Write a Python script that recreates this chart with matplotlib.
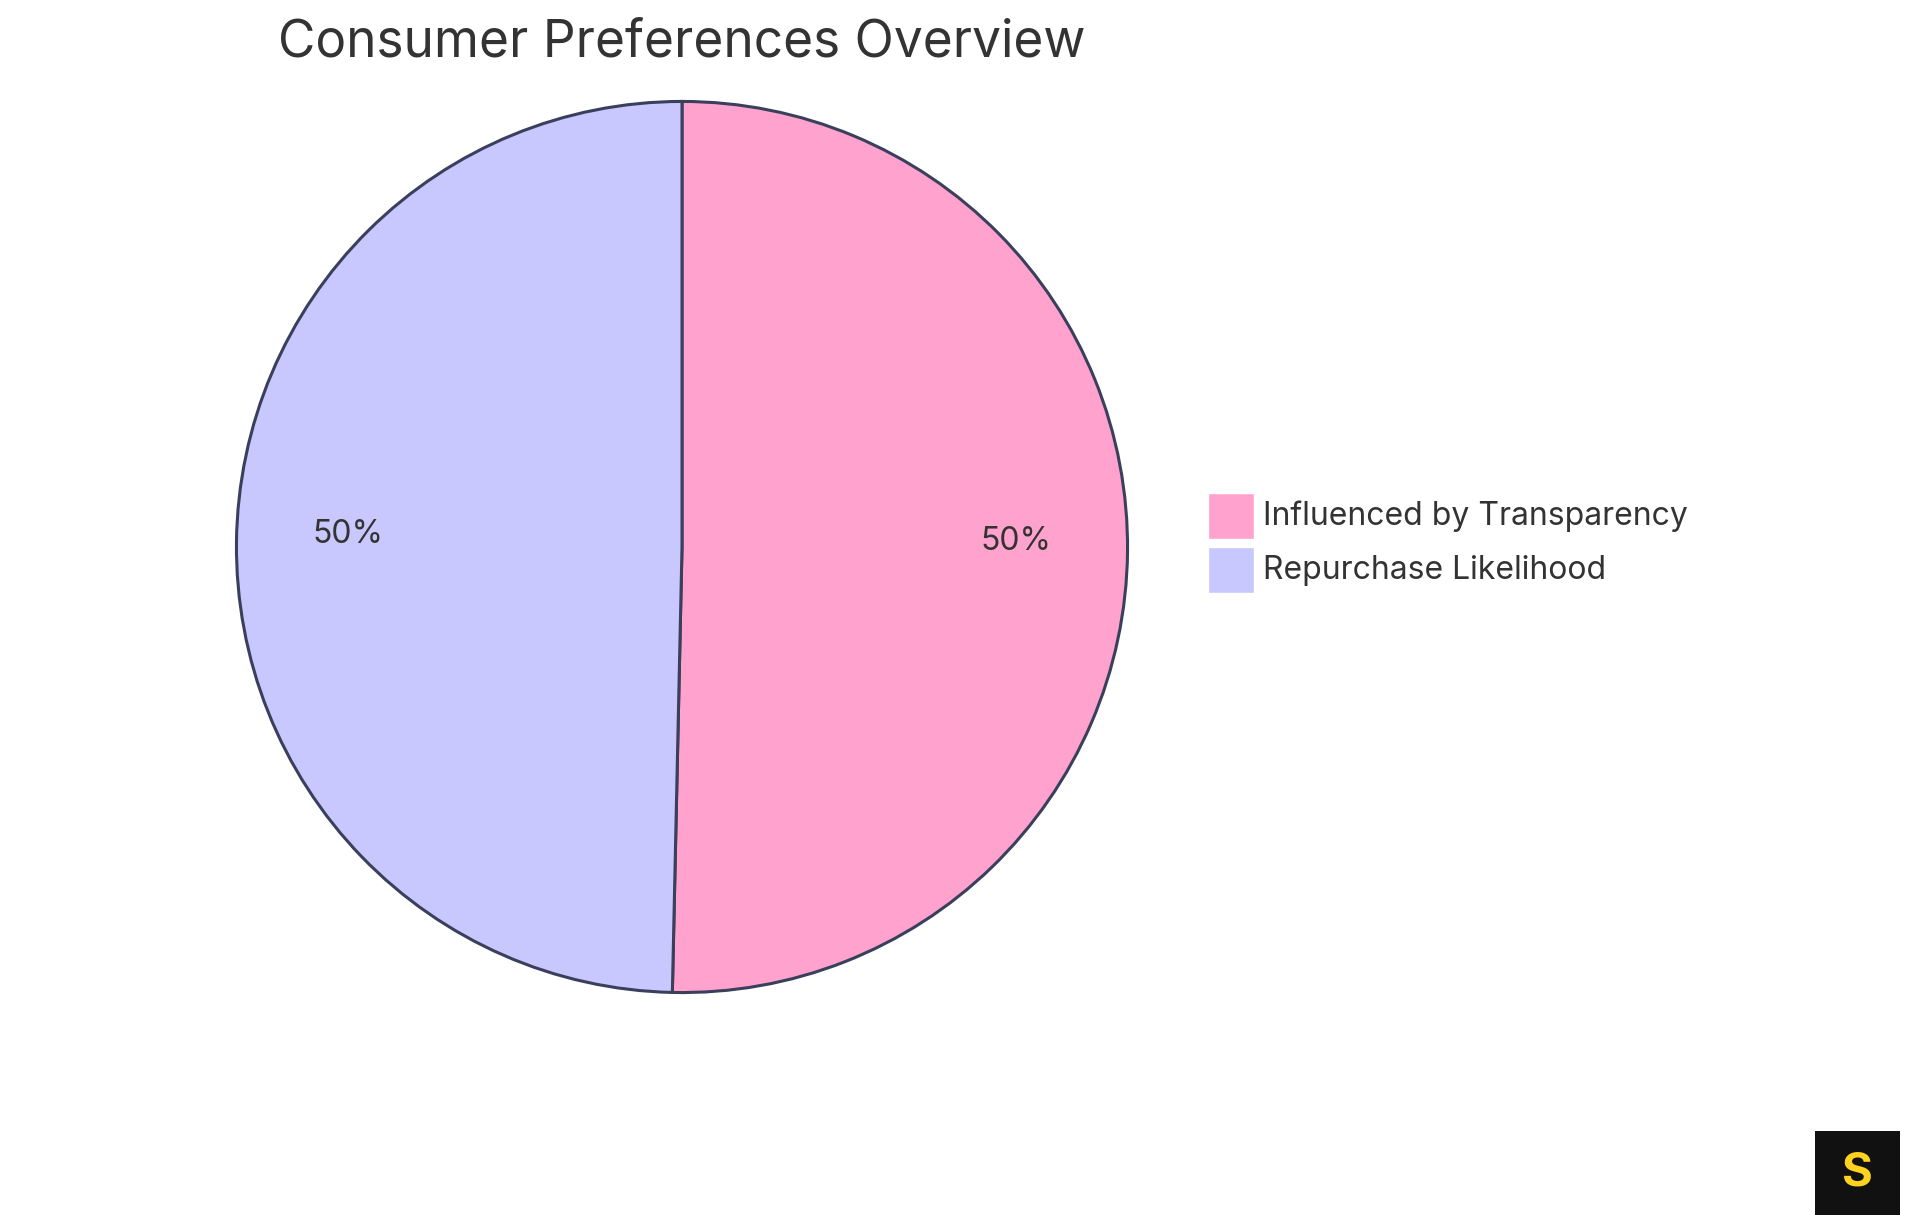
import matplotlib
matplotlib.use("Agg")
import matplotlib.pyplot as plt
from matplotlib.patches import Rectangle
import numpy as np

categories = ["Influenced by Transparency", "Repurchase Likelihood"]
values = [73, 72]
labels_pct = ["50%", "50%"]
colors = ["#FFA3CE", "#C8C8FF"]

plt.rcParams['font.family'] = ['Inter', 'DejaVu Sans']
fig = plt.figure(figsize=(19.2, 12.15), dpi=100)
W, H = 1920, 1215
cx, cy, r = 682, 547, 450
ax = fig.add_axes([(cx - r) / W, 1 - (cy + r) / H, 2 * r / W, 2 * r / H])
wedges, _ = ax.pie(values, colors=colors, startangle=90, counterclock=False,
                   wedgeprops=dict(edgecolor="#3a3f5c", linewidth=2.2))
for w, t in zip(wedges, labels_pct):
    a = np.deg2rad((w.theta1 + w.theta2) / 2)
    ax.text(0.75 * np.cos(a), 0.75 * np.sin(a) + 0.02, t, ha="center", va="center",
            fontsize=23, color="#333333")
ax.set_xlim(-1.01, 1.01); ax.set_ylim(-1.01, 1.01)
ax.set_aspect("equal")

fig.text(cx / W, 1 - 43 / H, "Consumer Preferences Overview", ha="center", va="center",
         fontsize=37, color="#333333")

for i, (c, col) in enumerate(zip(categories, colors)):
    y = 516 + i * 54
    fig.patches.append(Rectangle((1208 / W, 1 - (y + 23) / H), 46 / W, 46 / H,
                                 transform=fig.transFigure, facecolor=col,
                                 edgecolor="white", linewidth=1))
    fig.text(1263 / W, 1 - y / H, c, ha="left", va="center", fontsize=23, color="#333333")

fig.patches.append(Rectangle((1815 / W, 1 - 1215 / H), 85 / W, 84 / H,
                             transform=fig.transFigure, facecolor="#111111"))
fig.text(1857 / W, 1 - 1173 / H, "S", ha="center", va="center", fontsize=34,
         fontweight="bold", color="#FFD21F")

fig.savefig("out.png", dpi=100)
